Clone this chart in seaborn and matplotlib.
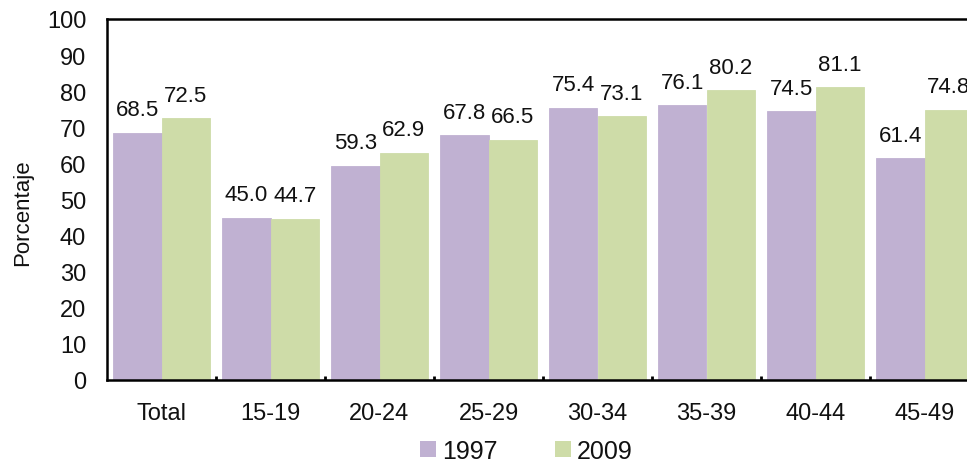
import matplotlib
matplotlib.use("Agg")
import matplotlib.pyplot as plt
import seaborn as sns
import pandas as pd
from matplotlib.patches import Patch

categories = ["Total", "15-19", "20-24", "25-29", "30-34", "35-39", "40-44", "45-49"]
values_1997 = [68.5, 45.0, 59.3, 67.8, 75.4, 76.1, 74.5, 61.4]
values_2009 = [72.5, 44.7, 62.9, 66.5, 73.1, 80.2, 81.1, 74.8]
series = ["1997", "2009"]
colors = ["#C0B1D2", "#CEDCA8"]
yticks = [0, 10, 20, 30, 40, 50, 60, 70, 80, 90, 100]

df = pd.DataFrame({
    "grupo": categories * 2,
    "anio": [series[0]] * len(categories) + [series[1]] * len(categories),
    "valor": values_1997 + values_2009,
})

sns.set_theme(style="white")
plt.rcParams["font.family"] = ["Liberation Sans", "DejaVu Sans"]
txt = "#111111"

fig = plt.figure(figsize=(9.67, 4.64), dpi=100)
W, H = 967, 464
left, right_px, top_px, bot_px = 107, 979, 20, 381
ax = fig.add_axes([left / W, 1 - bot_px / H, (right_px - left) / W, (bot_px - top_px) / H])

sns.barplot(data=df, x="grupo", y="valor", hue="anio", order=categories,
            hue_order=series, palette=colors, saturation=1, width=0.89,
            ax=ax, legend=False, errorbar=None, linewidth=0)

for p in ax.patches:
    p.set_edgecolor(p.get_facecolor())
    p.set_linewidth(0.6)

for cont in ax.containers:
    ax.bar_label(cont, fmt="%.1f", padding=9, fontsize=16, color=txt)

ax.set_ylim(0, 100)
ax.set_xlim(-0.5, len(categories) - 0.5)
ax.set_yticks(yticks)
ax.set_xlabel("")
ax.set_ylabel("Porcentaje", fontsize=16, color=txt)
ax.yaxis.set_label_coords(-0.085, 0.465)
ax.tick_params(axis="y", length=0, pad=15, labelsize=17, labelcolor=txt)
ax.tick_params(axis="x", length=0, pad=16, labelsize=17, labelcolor=txt)
ax.set_xticks([i + 0.5 for i in range(len(categories) - 1)], minor=True)
ax.tick_params(axis="x", which="minor", direction="in", length=3, width=2, color="black", bottom=True)

for s in ["left", "bottom", "top"]:
    ax.spines[s].set_color("black")
    ax.spines[s].set_linewidth(1.8)
ax.spines["right"].set_visible(False)

handles = [Patch(facecolor=c, edgecolor="none") for c in colors]
fig.legend(handles, series, loc="center", bbox_to_anchor=(0.5445, 0.026), ncol=2,
           frameon=False, fontsize=18, handlelength=0.62, handleheight=0.62,
           handletextpad=0.25, columnspacing=2.3, labelcolor=txt)

fig.savefig("out.png", dpi=100)
